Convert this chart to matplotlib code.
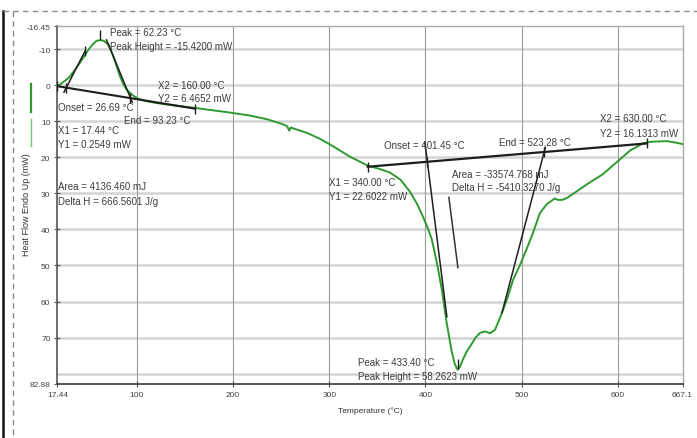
import numpy as np
import matplotlib
matplotlib.use("Agg")
import matplotlib.pyplot as plt
from matplotlib.lines import Line2D

plt.rcParams['font.family'] = ['Liberation Sans', 'DejaVu Sans']

# ---- DSC trace: temperature (°C) vs heat flow, endo up (mW) ----
temperature = [17.44, 22, 27, 30.4, 37, 43.7, 50, 54.3, 58, 62.23, 66, 70.5, 75.4, 79,
               82.3, 86, 89.5, 95.7, 102, 110, 120, 130.7, 145, 158, 175, 195, 217.5,
               235, 251.6, 256, 258.5, 260, 263, 276.7, 290, 303.8, 321.5, 340, 352, 363,
               374, 383.8, 391, 397.3, 402, 406.6, 411.8, 417, 422, 427.3, 430.5, 433.4,
               436, 439, 443, 448.4, 452, 456.7, 462, 467.1, 472.3, 477.5, 484.7, 491,
               498.3, 505, 511.8, 518.8, 526, 534.4, 537.5, 542, 546.8, 553, 560, 567.6,
               584.2, 601.9, 613, 617.5, 626, 633.3, 640, 651, 660, 667.1]
heat_flow = [0.25, -0.6, -1.6, -2.4, -4.8, -7.4, -10.0, -11.4, -12.3, -12.55, -12.3, -11.2,
             -8.2, -5.3, -2.6, -0.3, 1.2, 2.8, 3.8, 4.4, 4.9, 5.3, 5.8, 6.2, 6.8, 7.5, 8.4,
             9.4, 10.8, 11.3, 12.6, 11.7, 12.0, 13.2, 14.8, 16.9, 19.8, 22.3, 23.2, 24.2,
             26.2, 29.5, 32.8, 36.4, 39.4, 42.8, 49.2, 56.7, 65.9, 74.0, 77.4, 78.9,
             78.0, 76.0, 73.8, 71.6, 70.0, 68.7, 68.3, 68.8, 67.8, 64.5, 59.4, 54.0,
             49.8, 45.5, 40.9, 35.5, 33.0, 31.4, 31.8, 31.8, 31.3, 30.2, 28.9, 27.5,
             24.7, 20.6, 18.0, 17.4, 16.1, 15.7, 15.6, 15.5, 15.9, 16.3]

# ---- peak 1 analysis ----
p1_x = [17.44, 160.00]
p1_y = [0.2549, 6.4652]
p1_onset, p1_end, p1_peak = 26.69, 93.23, 62.23
p1_onset_tangent = ([24.3, 46.0], [1.9, -9.4])
p1_end_tangent = ([68.5, 95.2], [-12.6, 4.7])

# ---- peak 2 analysis ----
p2_x = [340.00, 630.00]
p2_y = [22.6022, 16.1313]
p2_onset, p2_end, p2_peak = 401.45, 523.28, 433.40
p2_onset_tangent = ([399.4, 422.2], [15.8, 64.2])
p2_end_tangent = ([524.6, 479.5], [17.2, 63.1])
p2_pointer = ([424.3, 433.7], [31.1, 50.6])

x_ticks = [17.44, 100, 200, 300, 400, 500, 600, 667.1]
x_labels = ["17.44", "100", "200", "300", "400", "500", "600", "667.1"]
y_ticks = [-16.45, -10, 0, 10, 20, 30, 40, 50, 60, 70, 82.88]
y_labels = ["-16.45", "-10", "0", "10", "20", "30", "40", "50", "60", "70", "82.88"]
x_grid = [100, 200, 300, 400, 500, 600]
y_grid = [-10, 0, 10, 20, 30, 40, 50, 60, 70, 80]

W, H = 697, 439
fig = plt.figure(figsize=(W / 100, H / 100), dpi=100)
fig.patch.set_facecolor("white")
ax_left, ax_right, ax_top, ax_bottom = 57.4, 682.5, 27, 385
ax = fig.add_axes([ax_left / W, 1 - ax_bottom / H, (ax_right - ax_left) / W,
                   (ax_bottom - ax_top) / H])

ax.set_xlim(x_ticks[0], x_ticks[-1])
ax.set_ylim(y_ticks[-1], y_ticks[0])

for g in y_grid:
    ax.axhline(g, color="#d4d4d4", lw=1.8, zorder=0)
for g in x_grid:
    ax.axvline(g, color="#9a9a9a", lw=0.8, zorder=0)

ax.set_xticks(x_ticks)
ax.set_xticklabels(x_labels)
ax.set_yticks(y_ticks)
ax.set_yticklabels(y_labels)
ax.tick_params(axis="both", labelsize=6, colors="#555555", labelcolor="#444444",
               direction="inout", length=4, width=0.8, pad=3)

for side in ("top", "right"):
    ax.spines[side].set_color("#aaaaaa")
    ax.spines[side].set_linewidth(1.0)
ax.spines["left"].set_color("#555555")
ax.spines["left"].set_linewidth(1.2)
ax.spines["bottom"].set_color("#555555")
ax.spines["bottom"].set_linewidth(1.4)

ax.set_xlabel("Temperature (°C)", fontsize=6, color="#333333", labelpad=6)
ax.set_ylabel("Heat Flow Endo Up (mW)", fontsize=6.5, color="#333333")
ax.yaxis.set_label_coords((31 - ax_left) / (ax_right - ax_left),
                          (ax_bottom - 205) / (ax_bottom - ax_top))

# trace
ax.plot(temperature, heat_flow, color="#2f9a2f", lw=1.4, zorder=3, solid_joinstyle="round")

line_kw = dict(color="#1e1e1e", lw=1.1, zorder=4)


def baseline(xs, ys, t):
    return np.interp(t, xs, ys)


# baselines
ax.plot(p1_x, p1_y, color="#1e1e1e", lw=1.5, zorder=4)
ax.plot(p2_x, p2_y, color="#1e1e1e", lw=1.6, zorder=4)
# tangents
ax.plot(*p1_onset_tangent, **line_kw)
ax.plot(*p1_end_tangent, **line_kw)
ax.plot(*p2_onset_tangent, **line_kw)
ax.plot(*p2_end_tangent, **line_kw)
ax.plot(*p2_pointer, color="#333333", lw=1.1, zorder=4)

# event markers
mk = dict(marker="|", color="#1e1e1e", markersize=7, mew=1.0, ls="none", zorder=5)
for xs, ys, evts in ((p1_x, p1_y, [p1_onset, p1_end]), (p2_x, p2_y, [p2_onset, p2_end])):
    ax.plot(xs, ys, **mk)
    ax.plot(evts, baseline(xs, ys, evts), **mk)
for pk in (p1_peak, p2_peak):
    yp = np.interp(pk, temperature, heat_flow)
    ax.plot([pk], [yp - 1.5], **mk)
ax.plot([p1_onset_tangent[0][1]], [p1_onset_tangent[1][1]], **mk)

txt = dict(fontsize=7, color="#3c3c3c", va="center", ha="left", zorder=6)
annotations = [
    (72.1, -14.8, "Peak = 62.23 °C"),
    (72.1, -10.9, "Peak Height = -15.4200 mW"),
    (122.1, 0.0, "X2 = 160.00 °C"),
    (122.1, 3.5, "Y2 = 6.4652 mW"),
    (18.1, 6.0, "Onset = 26.69 °C"),
    (86.7, 9.6, "End = 93.23 °C"),
    (18.1, 12.4, "X1 = 17.44 °C"),
    (18.1, 16.3, "Y1 = 0.2549 mW"),
    (18.1, 27.9, "Area = 4136.460 mJ"),
    (18.1, 32.1, "Delta H = 666.5601 J/g"),
    (356.5, 16.6, "Onset = 401.45 °C"),
    (476.2, 15.7, "End = 523.28 °C"),
    (581.6, 9.1, "X2 = 630.00 °C"),
    (581.6, 13.2, "Y2 = 16.1313 mW"),
    (299.7, 26.8, "X1 = 340.00 °C"),
    (299.7, 30.7, "Y1 = 22.6022 mW"),
    (427.7, 24.6, "Area = -33574.768 mJ"),
    (427.7, 28.2, "Delta H = -5410.3270 J/g"),
    (329.9, 76.8, "Peak = 433.40 °C"),
    (329.9, 80.7, "Peak Height = 58.2623 mW"),
]
for tx, ty, s in annotations:
    ax.text(tx, ty, s, **txt)

# series indicators at the left
fig.add_artist(Line2D([31 / W, 31 / W], [1 - 85 / H, 1 - 113 / H], color="#2f9a2f", lw=1.6))
fig.add_artist(Line2D([31 / W, 31 / W], [1 - 120 / H, 1 - 147 / H], color="#7cc47c", lw=1.0))

# page frame
fig.add_artist(Line2D([3 / W, 3 / W], [1 - 12 / H, 0], color="#111111", lw=1.8))
fig.add_artist(Line2D([13.5 / W, 13.5 / W], [1 - 12 / H, 0], color="#8a8a8a", lw=1.0,
                      ls=(0, (4, 3))))
fig.add_artist(Line2D([3 / W, 1], [1 - 12 / H, 1 - 12 / H], color="#8a8a8a", lw=1.0,
                      ls=(0, (4, 3))))

fig.savefig("out.png", dpi=100)
